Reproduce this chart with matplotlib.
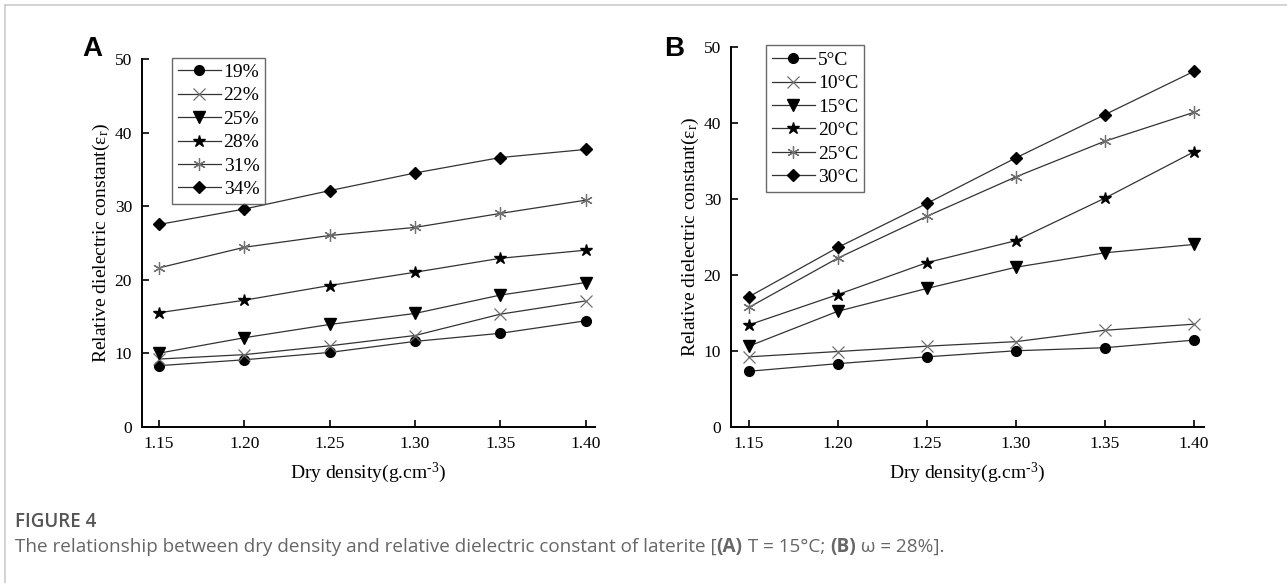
import numpy as np
import matplotlib
matplotlib.use('Agg')
import matplotlib.pyplot as plt
from matplotlib.lines import Line2D

density = [1.15, 1.20, 1.25, 1.30, 1.35, 1.40]

# panel A: T = 15 C, different water contents
moisture_labels = ['19%', '22%', '25%', '28%', '31%', '34%']
eps_w19 = [8.3, 9.1, 10.1, 11.6, 12.7, 14.4]
eps_w22 = [9.2, 9.8, 11.0, 12.4, 15.3, 17.1]
eps_w25 = [10.0, 12.1, 13.9, 15.4, 17.9, 19.6]
eps_w28 = [15.5, 17.2, 19.2, 21.0, 22.9, 24.0]
eps_w31 = [21.6, 24.4, 26.0, 27.1, 29.0, 30.8]
eps_w34 = [27.5, 29.6, 32.1, 34.5, 36.6, 37.7]

# panel B: w = 28 %, different temperatures
temp_labels = ['5\u00b0C', '10\u00b0C', '15\u00b0C', '20\u00b0C', '25\u00b0C', '30\u00b0C']
eps_t5 = [7.3, 8.3, 9.2, 10.0, 10.4, 11.4]
eps_t10 = [9.2, 9.9, 10.6, 11.2, 12.7, 13.5]
eps_t15 = [10.6, 15.2, 18.2, 21.0, 22.9, 24.0]
eps_t20 = [13.4, 17.4, 21.6, 24.5, 30.1, 36.2]
eps_t25 = [15.7, 22.2, 27.7, 32.9, 37.6, 41.4]
eps_t30 = [17.1, 23.6, 29.4, 35.4, 41.1, 46.8]

series_a = [eps_w19, eps_w22, eps_w25, eps_w28, eps_w31, eps_w34]
series_b = [eps_t5, eps_t10, eps_t15, eps_t20, eps_t25, eps_t30]

# marker style per series (same order in both panels)
styles = [
    dict(marker='o', ms=7, mfc='black', mec='black'),
    dict(marker='x', ms=8, mfc='none', mec='#707070', mew=0.9),
    dict(marker='v', ms=8, mfc='black', mec='black'),
    dict(marker='*', ms=9, mfc='black', mec='black'),
    dict(marker=(6, 2, 0), ms=9, mfc='none', mec='#707070', mew=0.9),
    dict(marker='D', ms=6.5, mfc='black', mec='black'),
]

plt.rcParams['font.family'] = ['Liberation Serif', 'DejaVu Serif']
plt.rcParams['mathtext.fontset'] = 'custom'
plt.rcParams['mathtext.rm'] = 'Liberation Serif'
plt.rcParams['mathtext.it'] = 'Liberation Serif:italic'
fig = plt.figure(figsize=(12.87, 5.83), dpi=100)

def draw_panel(rect, series, labels, xlim, letter, letter_x, legend_anchor):
    ax = fig.add_axes(rect)
    for ys, lab, st in zip(series, labels, styles):
        ax.plot(density, ys, color='#333333', lw=0.9, label=lab, **st)
    ax.set_xlim(*xlim)
    ax.set_ylim(0, 50)
    ax.set_xticks(density)
    ax.set_xticklabels([f'{d:.2f}' for d in density])
    ax.set_yticks(range(0, 51, 10))
    ax.spines['top'].set_visible(False)
    ax.spines['right'].set_visible(False)
    for s in ('left', 'bottom'):
        ax.spines[s].set_linewidth(1.4)
    ax.tick_params(direction='in', length=5, width=1.2, labelsize=12.5, pad=7)
    ax.set_xlabel('Dry density(g.cm$^{\\mathregular{\u2010}3}$)', fontsize=14, labelpad=6)
    ax.set_ylabel('Relative dielectric constant(\u03b5$_{\\mathregular{r}}$)', fontsize=14, labelpad=2)
    leg = ax.legend(loc='upper left', bbox_to_anchor=legend_anchor, fontsize=14,
                    frameon=True, fancybox=False, edgecolor='#444444',
                    handlelength=2.2, labelspacing=0.3, borderpad=0.3,
                    handletextpad=0.15, borderaxespad=0)
    leg.get_frame().set_linewidth(1.0)
    fig.text(letter_x, 1 - 49 / 583, letter, fontsize=20,
             fontweight='bold', family='Liberation Sans', ha='center', va='center')
    return ax

draw_panel([0.1101, 0.2681, 0.3522, 0.6307], series_a, moisture_labels,
           (1.1398, 1.4055), 'A', 92 / 1287, (0.067, 1.004))
draw_panel([0.5678, 0.2681, 0.3677, 0.6513], series_b, temp_labels,
           (1.1399, 1.4056), 'B', 674 / 1287, (0.075, 1.004))

# page frame lines (left and top)
fig.add_artist(Line2D([0.0035, 0.0035], [0, 0.991], color='#cccccc', lw=1.2))
fig.add_artist(Line2D([0.0035, 1.0], [0.991, 0.991], color='#cccccc', lw=1.2))

# caption
fig.text(0.0117, 1 - 522 / 583, 'FIGURE 4', fontsize=13.5, color='#555555',
         family='Open Sans', fontweight='semibold', va='center')

pieces = [
    ('The relationship between dry density and relative dielectric constant of laterite [', 'normal'),
    ('(A)', 'bold'),
    (' T = 15\u00b0C; ', 'normal'),
    ('(B)', 'bold'),
    (' \u03c9 = 28%].', 'normal'),
]
renderer = fig.canvas.get_renderer()
x = 0.0117
for txt, wt in pieces:
    t = fig.text(x, 1 - 547 / 583, txt, fontsize=13.6, color='#666666',
                 family='Open Sans', fontweight=wt, va='center')
    bb = t.get_window_extent(renderer=renderer)
    x += bb.width / fig.bbox.width

fig.savefig('out.png', dpi=100)
